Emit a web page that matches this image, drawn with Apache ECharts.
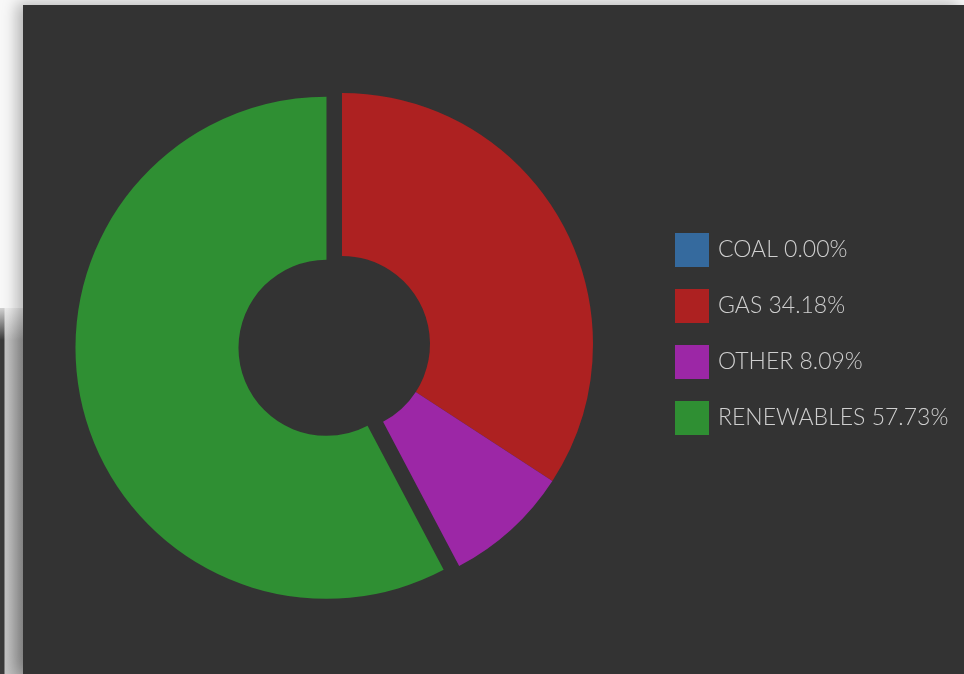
<!DOCTYPE html>
<html>
<head>
<meta charset="utf-8">
<script src="https://cdn.jsdelivr.net/npm/echarts@6/dist/echarts.min.js"></script>
<style>
  html, body { margin:0; padding:0; width:964px; height:674px; overflow:hidden; background:#f8f8f8; }
  #under { position:absolute; left:0; top:308px; width:23px; height:366px;
           background:linear-gradient(to right, #3a3a3a 0px, #3a3a3a 4px, #c4c4c4 5px, #a8a8a8 23px); }
  #underShade { position:absolute; left:0; top:300px; width:23px; height:40px;
           background:linear-gradient(to bottom, rgba(248,248,248,1), rgba(248,248,248,0)); }
  #panel { position:absolute; left:23px; top:5px; width:941px; height:669px; background:#333333;
           box-shadow:-6px -2px 14px rgba(0,0,0,0.28); }
  #chart { position:absolute; left:0; top:0; width:964px; height:674px; }
</style>
</head>
<body>
<div id="under"></div>
<div id="underShade"></div>
<div id="panel"></div>
<div id="chart"></div>
<script>
const categories = ['COAL', 'GAS', 'OTHER', 'RENEWABLES'];
const shares = [0.00, 34.18, 8.09, 57.73];
const colors = ['#356a9e', '#ad2121', '#9c27a6', '#2f8f33'];
const selectedCategory = 'RENEWABLES';

const chart = echarts.init(document.getElementById('chart'), null, { renderer: 'canvas' });
const data = categories.map((c, i) => ({
  name: c, value: shares[i], selected: c === selectedCategory,
  itemStyle: { color: colors[i] }
}));
const shareByName = {};
categories.forEach((c, i) => { shareByName[c] = shares[i]; });

chart.setOption({
  backgroundColor: 'transparent',
  animation: false,
  legend: {
    orient: 'vertical',
    left: 670, top: 228,
    itemWidth: 34, itemHeight: 34, itemGap: 22,
    icon: 'rect',
    selectedMode: false,
    data: categories,
    formatter: n => n + ' ' + shareByName[n].toFixed(2) + '%',
    textStyle: { color: '#cfcfcf', fontFamily: 'Lato', fontSize: 23, fontWeight: 300, padding: [0, 0, 0, 4] }
  },
  series: [{
    type: 'pie',
    center: [342, 344],
    radius: [88, 251],
    startAngle: 90,
    clockwise: true,
    selectedMode: 'single',
    selectedOffset: 16,
    avoidLabelOverlap: false,
    label: { show: false },
    labelLine: { show: false },
    emphasis: { disabled: true },
    itemStyle: { borderWidth: 0 },
    data: data
  }]
});
</script>
</body>
</html>
